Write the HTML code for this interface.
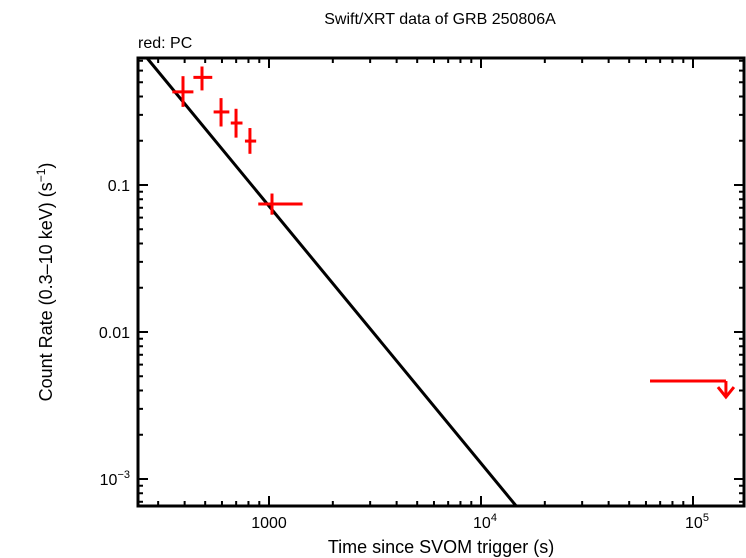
<!DOCTYPE html>
<html><head><meta charset="utf-8"><style>
body{margin:0;background:#fff}
svg{display:block;font-family:"Liberation Sans",sans-serif}
</style></head><body>
<svg id="c" width="746" height="558">
<text x="440" y="24" font-size="16" text-anchor="middle">Swift/XRT data of GRB 250806A</text>
<text x="138" y="48" font-size="16">red: PC</text>
<text x="441" y="553" font-size="18" text-anchor="middle">Time since SVOM trigger (s)</text>
<text transform="translate(52,282) rotate(-90)" font-size="18" text-anchor="middle">Count Rate (0.3–10 keV) (s<tspan dy="-7" font-size="12">−1</tspan><tspan dy="7">)</tspan></text>
<g id="ticks"></g><g id="marks"></g>
<rect x="138" y="58" width="606" height="448" fill="none" stroke="#000" stroke-width="3"/>
</svg>
<script>
const times=[393,483,594,699,813,1033];
const tLo=[350,440,548,660,770,890];
const tHi=[440,540,650,750,870,1440];
const rates=[0.43,0.54,0.314,0.264,0.199,0.0743];
const rLo=[0.34,0.44,0.25,0.21,0.163,0.0628];
const rHi=[0.55,0.64,0.39,0.33,0.244,0.0875];
const ulT=[62700,143000];
const ulRate=0.00464;
const modelNorm=0.73, modelT0=266, modelIdx=1.75;
const xTickLabels=["1000","10^4","10^5"];
const yTickLabels=["10^-3","0.01","0.1"];
const L=138,R=744,T=58,B=506;
const xs=t=>269+212*Math.log10(t/1000);
const ys=r=>185-147*Math.log10(r/0.1);
const NS="http://www.w3.org/2000/svg";
function mk(tag,attrs,parent){const e=document.createElementNS(NS,tag);for(const k in attrs)e.setAttribute(k,attrs[k]);parent.appendChild(e);return e;}
const tg=document.getElementById('ticks'),mg=document.getElementById('marks');
// x ticks
for(let d=2;d<=5;d++){for(let m=1;m<10;m++){const t=m*Math.pow(10,d);const x=xs(t);if(x<L||x>R)continue;const len=m==1?10:5;
const a=mk('line',{x1:x,x2:x,y1:B,y2:B-len,stroke:'#000','stroke-width':2},tg);

const b=mk('line',{x1:x,x2:x,y1:T,y2:T+len,stroke:'#000','stroke-width':2},tg);
}}
function lab(s,x,y,anchor,name){const e=mk('text',{x:x,y:y,'font-size':16,'text-anchor':anchor},tg);

if(s.includes('^')){const [b,p]=s.split('^');const t1=document.createElementNS(NS,'tspan');t1.textContent=b;e.appendChild(t1);
const t2=document.createElementNS(NS,'tspan');t2.setAttribute('dy','-7');t2.setAttribute('font-size','11');t2.textContent=p.replace('-','−');e.appendChild(t2);}else e.textContent=s;}
xTickLabels.forEach((s,i)=>lab(s,xs(Math.pow(10,3+i))+(i?4:0),528,'middle','x-tick-label'));
// y ticks
for(let d=-4;d<=0;d++){for(let m=1;m<10;m++){const r=m*Math.pow(10,d);const y=ys(r);if(y<T||y>B)continue;const len=m==1?10:5;
const a=mk('line',{x1:L,x2:L+len,y1:y,y2:y,stroke:'#000','stroke-width':2},tg);

const b=mk('line',{x1:R,x2:R-len,y1:y,y2:y,stroke:'#000','stroke-width':2},tg);
}}
yTickLabels.forEach((s,i)=>lab(s,130,ys(Math.pow(10,-3+i))+6,'end','y-tick-label'));
// model
const mf=t=>modelNorm*Math.pow(t/modelT0,-modelIdx);
let t1=Math.pow(10,3+(L-269)/212),t2=Math.pow(10,3+(R-269)/212);
const tTop=modelT0*Math.pow(modelNorm/0.73,1/modelIdx)*Math.pow(Math.pow(10,-1+(185-T)/147)/modelNorm,-1/modelIdx);
const tBot=modelT0*Math.pow(Math.pow(10,-1-(B-185)/147)/modelNorm,-1/modelIdx);
t1=Math.max(t1,tTop);t2=Math.min(t2,tBot);
const ml=mk('line',{x1:xs(t1),y1:ys(mf(t1)),x2:xs(t2),y2:ys(mf(t2)),stroke:'#000','stroke-width':3},mg);

// data
times.forEach((t,i)=>{const g=mk('g',{stroke:'#f00','stroke-width':3},mg);

mk('line',{x1:xs(tLo[i]),x2:xs(tHi[i]),y1:ys(rates[i]),y2:ys(rates[i])},g);
mk('line',{x1:xs(t),x2:xs(t),y1:ys(rLo[i]),y2:ys(rHi[i])},g);});
// upper limit
const ug=mk('g',{stroke:'#f00','stroke-width':3,fill:'none'},mg);

const uy=ys(ulRate),ux=xs(ulT[1]);
mk('line',{x1:xs(ulT[0]),x2:ux,y1:uy,y2:uy},ug);
mk('line',{x1:ux,x2:ux,y1:uy,y2:uy+16},ug);
mk('polyline',{points:`${ux-8},${uy+6} ${ux},${uy+16} ${ux+8},${uy+6}`},ug);
</script>
</body></html>
